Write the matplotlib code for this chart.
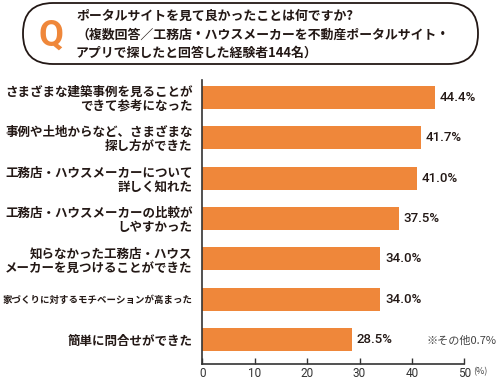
import matplotlib.pyplot as plt
from matplotlib.patches import FancyBboxPatch

plt.rcParams['font.family'] = ['Noto Sans CJK JP', 'DejaVu Sans']

# data
categories = [
    "さまざまな建築事例を見ることが\nできて参考になった",
    "事例や土地からなど、さまざまな\n探し方ができた",
    "工務店・ハウスメーカーについて\n詳しく知れた",
    "工務店・ハウスメーカーの比較が\nしやすかった",
    "知らなかった工務店・ハウス\nメーカーを見つけることができた",
    "家づくりに対するモチベーションが高まった",
    "簡単に問合せができた",
]
values = [44.4, 41.7, 41.0, 37.5, 34.0, 34.0, 28.5]
xticks = [0, 10, 20, 30, 40, 50]
question = ["ポータルサイトを見て良かったことは何ですか?",
            "（複数回答／工務店・ハウスメーカーを不動産ポータルサイト・",
            "アプリで探したと回答した経験者144名）"]
note = "※その他0.7%"

orange = '#EF873A'
dark = '#231815'

fig = plt.figure(figsize=(5, 3.8), dpi=100)

# bar chart
ax = fig.add_axes([202.3 / 500, 1 - 364 / 380, (464.3 - 202.3) / 500, (364 - 80) / 380])
ypos = list(range(len(values)))
ax.barh(ypos, values, height=0.57, color=orange)
ax.set_xlim(0, 50)
ax.set_ylim(6.6, -0.43)
for y, v in zip(ypos, values):
    ax.text(v + 0.9, y, f"{v:.1f}%", va='center', ha='left', fontsize=9.5,
            color=dark, family=['Roboto', 'DejaVu Sans'], fontweight='medium')
ax.set_yticks(ypos)
ax.set_yticklabels(categories, fontsize=9, fontweight='bold', color=dark,
                   linespacing=1.1)
# the long single-line label is squeezed in the original
ax.get_yticklabels()[5].set_fontsize(6.8)
ax.tick_params(axis='y', length=0, pad=7)
ax.set_xticks(xticks)
ax.set_xticklabels([str(t) for t in xticks], fontsize=8.5, color='#333333',
                   family=['Roboto', 'DejaVu Sans'])
ax.tick_params(axis='x', direction='in', length=4, width=1, color='#333333', pad=2)
for s in ['top', 'right']:
    ax.spines[s].set_visible(False)
for s in ['left', 'bottom']:
    ax.spines[s].set_color('#333333')
    ax.spines[s].set_linewidth(1.2)
ax.patch.set_alpha(0)

# overlay in pixel coordinates for the header box and notes
ov = fig.add_axes([0, 0, 1, 1], zorder=3)
ov.set_xlim(0, 500)
ov.set_ylim(380, 0)
ov.axis('off')
ov.patch.set_alpha(0)
box = FancyBboxPatch((23, 3), 455, 61, boxstyle="round,pad=0,rounding_size=30",
                     fc='white', ec=dark, lw=1.3)
ov.add_patch(box)
ov.text(51, 36, "Q", fontsize=26, fontweight='bold', color=orange,
        ha='center', va='center', family=['Roboto', 'DejaVu Sans'])
for i, line in enumerate(question):
    ov.text(76, 16 + i * 18.5, line, fontsize=9.3, fontweight='bold', color=dark,
            ha='left', va='center')
ov.text(426, 341, note, fontsize=8, color='#444444', ha='left', va='center')
ov.text(473, 372, "(%)", fontsize=6.5, color='#444444', ha='left', va='center')

fig.savefig('out.png', dpi=100)
